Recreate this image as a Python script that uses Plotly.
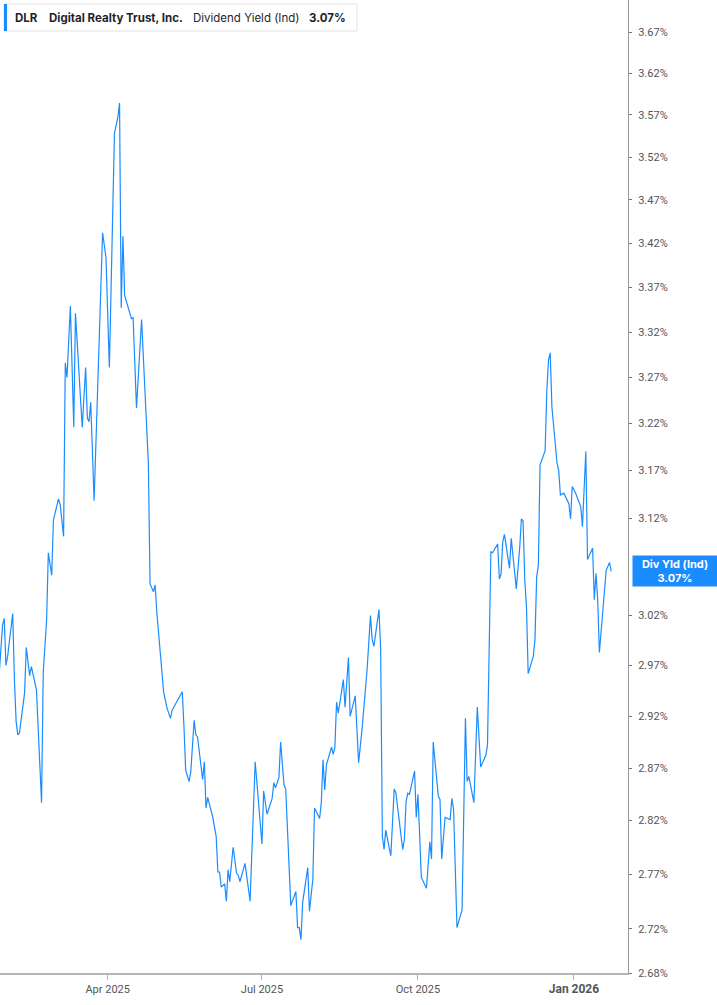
import math
import plotly.graph_objects as go

# DLR dividend yield (indicated)
dates = [
    "2025-01-27", "2025-01-29", "2025-01-30", "2025-01-31", "2025-02-01", "2025-02-04",
    "2025-02-05", "2025-02-06", "2025-02-07", "2025-02-08", "2025-02-11", "2025-02-12",
    "2025-02-14", "2025-02-15", "2025-02-18", "2025-02-21", "2025-02-22", "2025-02-24",
    "2025-02-25", "2025-02-27", "2025-02-28", "2025-03-01", "2025-03-03", "2025-03-04",
    "2025-03-06", "2025-03-07", "2025-03-08", "2025-03-10", "2025-03-12", "2025-03-13",
    "2025-03-15", "2025-03-17", "2025-03-19", "2025-03-20", "2025-03-21", "2025-03-22",
    "2025-03-24", "2025-03-29", "2025-03-31", "2025-04-02", "2025-04-05", "2025-04-07",
    "2025-04-08", "2025-04-09", "2025-04-10", "2025-04-11", "2025-04-15", "2025-04-16",
    "2025-04-18", "2025-04-21", "2025-04-25", "2025-04-26", "2025-04-28", "2025-04-29",
    "2025-04-30", "2025-05-03", "2025-05-04", "2025-05-06", "2025-05-08", "2025-05-09",
    "2025-05-15", "2025-05-16", "2025-05-17", "2025-05-19", "2025-05-20", "2025-05-22",
    "2025-05-23", "2025-05-24", "2025-05-27", "2025-05-28", "2025-05-29", "2025-05-30",
    "2025-06-02", "2025-06-04", "2025-06-05", "2025-06-06", "2025-06-07", "2025-06-09",
    "2025-06-10", "2025-06-11", "2025-06-12", "2025-06-14", "2025-06-16", "2025-06-17",
    "2025-06-18", "2025-06-21", "2025-06-24", "2025-06-27", "2025-07-01", "2025-07-02",
    "2025-07-04", "2025-07-07", "2025-07-08", "2025-07-09", "2025-07-11", "2025-07-12",
    "2025-07-14", "2025-07-15", "2025-07-18", "2025-07-21", "2025-07-22", "2025-07-23",
    "2025-07-24", "2025-07-25", "2025-07-28", "2025-07-29", "2025-07-31", "2025-08-01",
    "2025-08-04", "2025-08-05", "2025-08-06", "2025-08-07", "2025-08-08", "2025-08-11",
    "2025-08-12", "2025-08-13", "2025-08-14", "2025-08-15", "2025-08-18", "2025-08-19",
    "2025-08-21", "2025-08-22", "2025-08-25", "2025-08-27", "2025-08-29", "2025-09-01",
    "2025-09-03", "2025-09-04", "2025-09-05", "2025-09-08", "2025-09-09", "2025-09-10",
    "2025-09-11", "2025-09-12", "2025-09-15", "2025-09-17", "2025-09-18", "2025-09-22",
    "2025-09-23", "2025-09-24", "2025-09-25", "2025-09-26", "2025-09-29", "2025-09-30",
    "2025-10-01", "2025-10-03", "2025-10-06", "2025-10-08", "2025-10-09", "2025-10-10",
    "2025-10-13", "2025-10-14", "2025-10-15", "2025-10-17", "2025-10-20", "2025-10-21",
    "2025-10-22", "2025-10-24", "2025-10-27", "2025-10-29", "2025-10-30", "2025-10-31",
    "2025-11-03", "2025-11-05", "2025-11-07", "2025-11-10", "2025-11-11", "2025-11-13",
    "2025-11-14", "2025-11-17", "2025-11-18", "2025-11-19", "2025-11-20", "2025-11-21",
    "2025-11-24", "2025-11-25", "2025-11-28", "2025-11-30", "2025-12-01", "2025-12-02",
    "2025-12-03", "2025-12-04", "2025-12-05", "2025-12-08", "2025-12-09", "2025-12-10",
    "2025-12-11", "2025-12-12", "2025-12-15", "2025-12-16", "2025-12-17", "2025-12-18",
    "2025-12-19", "2025-12-22", "2025-12-23", "2025-12-24", "2025-12-26", "2025-12-29",
    "2025-12-30", "2025-12-31", "2026-01-02", "2026-01-05", "2026-01-06", "2026-01-08",
    "2026-01-09", "2026-01-12", "2026-01-13", "2026-01-14", "2026-01-15", "2026-01-16",
    "2026-01-18", "2026-01-20", "2026-01-22", "2026-01-23",
]

div_yield = [
    2.961, 3.010, 3.017, 2.970, 2.979, 3.022,
    2.956, 2.915, 2.902, 2.904, 2.943, 2.988,
    2.960, 2.969, 2.946, 2.837, 2.963, 3.016,
    3.084, 3.061, 3.118, 3.126, 3.140, 3.134,
    3.101, 3.286, 3.270, 3.349, 3.216, 3.341,
    3.278, 3.216, 3.281, 3.226, 3.222, 3.243,
    3.138, 3.432, 3.404, 3.281, 3.548, 3.567,
    3.584, 3.347, 3.428, 3.361, 3.335, 3.336,
    3.237, 3.334, 3.178, 3.052, 3.044, 3.051,
    3.023, 2.964, 2.944, 2.928, 2.918, 2.926,
    2.944, 2.910, 2.868, 2.857, 2.866, 2.916,
    2.902, 2.900, 2.859, 2.876, 2.832, 2.842,
    2.823, 2.805, 2.772, 2.772, 2.758, 2.761,
    2.745, 2.774, 2.763, 2.795, 2.771, 2.769,
    2.763, 2.780, 2.745, 2.876, 2.798, 2.848,
    2.826, 2.841, 2.856, 2.851, 2.861, 2.895,
    2.854, 2.850, 2.741, 2.754, 2.721, 2.721,
    2.710, 2.744, 2.776, 2.736, 2.765, 2.832,
    2.822, 2.837, 2.878, 2.849, 2.873, 2.890,
    2.883, 2.890, 2.934, 2.923, 2.956, 2.929,
    2.978, 2.920, 2.940, 2.875, 2.907, 2.966,
    3.020, 2.996, 2.989, 3.026, 2.986, 2.805,
    2.793, 2.811, 2.787, 2.850, 2.846, 2.793,
    2.802, 2.838, 2.846, 2.845, 2.867, 2.823,
    2.845, 2.767, 2.757, 2.800, 2.784, 2.895,
    2.843, 2.840, 2.784, 2.823, 2.821, 2.841,
    2.831, 2.721, 2.737, 2.918, 2.857, 2.862,
    2.837, 2.929, 2.871, 2.882, 2.892, 3.085,
    3.084, 3.093, 3.057, 3.062, 3.095, 3.103,
    3.068, 3.099, 3.047, 3.089, 3.119, 3.117,
    3.056, 3.029, 2.962, 2.979, 2.996, 3.059,
    3.071, 3.176, 3.191, 3.256, 3.289, 3.297,
    3.238, 3.178, 3.170, 3.144, 3.146, 3.135,
    3.119, 3.153, 3.146, 3.132, 3.111, 3.190,
    3.077, 3.089, 3.036, 3.063, 3.036, 2.983,
    3.026, 3.066, 3.074, 3.065,
]

# 3.07% sits under the last-value tag in the reference, so it is left out
y_ticks = [2.68, 2.72, 2.77, 2.82, 2.87, 2.92, 2.97, 3.02, 3.12, 3.17,
           3.22, 3.27, 3.32, 3.37, 3.42, 3.47, 3.52, 3.57, 3.62, 3.67]
x_ticks = ["2025-04-01", "2025-07-01", "2025-10-01", "2026-01-01"]
x_labels = ["Apr 2025", "Jul 2025", "Oct 2025",
            "<span style='font-size:12px'><b>Jan 2026</b></span>"]

ticker = "DLR"
company = "Digital Realty Trust, Inc."
metric = "Dividend Yield (Ind)"
last_label = "3.07%"

BLUE = "#1a8cff"
W, H = 717, 1005
L, R, T, B = 0, 89, 0, 32
PW, PH = W - L - R, H - T - B

fig = go.Figure()
fig.add_trace(go.Scatter(
    x=dates, y=div_yield, mode="lines",
    line=dict(color=BLUE, width=1.2),
    hoverinfo="x+y", showlegend=False,
))

fig.update_layout(
    width=W, height=H,
    margin=dict(l=L, r=R, t=T, b=B),
    paper_bgcolor="white", plot_bgcolor="white",
    font=dict(family="Roboto, Inter, sans-serif", size=11, color="#555"),
    showlegend=False,
)

fig.update_xaxes(
    type="date",
    range=["2025-01-27 12:00", "2026-02-01 21:00"],
    tickvals=x_ticks, ticktext=x_labels,
    showgrid=False, zeroline=False,
    showline=True, linecolor="#b5b5b5", linewidth=2,
    ticks="outside", ticklen=5, tickcolor="#b5b5b5",
    tickfont=dict(size=11, color="#555"),
)

fig.update_yaxes(
    type="log", side="right",
    range=[math.log10(2.68), math.log10(3.7096)],
    tickvals=y_ticks, ticktext=[f"{v:.2f}%" for v in y_ticks],
    showgrid=False, zeroline=False,
    showline=True, linecolor="#999", linewidth=1,
    ticks="outside", ticklen=3, tickcolor="#777",
    ticklabelstandoff=4,
    tickfont=dict(size=11, color="#555"),
)

# last value tag on the right axis
fig.add_annotation(
    xref="paper", x=1, xanchor="left", xshift=4,
    yref="y", y=math.log10(div_yield[-1]), yanchor="middle",
    text=f"<b>Div Yld (Ind)</b><br><b>{last_label}</b>",
    showarrow=False, align="center",
    bgcolor=BLUE, width=82, height=28, borderpad=1,
    font=dict(family="Inter, sans-serif", size=11, color="white"),
)

# header box in the top left corner
def px_x(px):
    return px / PW

def px_y(px):
    return 1 - px / PH

fig.add_shape(type="rect", xref="paper", yref="paper",
              x0=px_x(4), x1=px_x(357), y0=px_y(31), y1=px_y(4),
              line=dict(color="#e3e3e3", width=1), fillcolor="white", layer="above")
fig.add_shape(type="rect", xref="paper", yref="paper",
              x0=px_x(4), x1=px_x(7), y0=px_y(31), y1=px_y(4),
              line=dict(width=0), fillcolor=BLUE, layer="above")

header = [(13, f"<b>{ticker}</b>"), (47, f"<b>{company}</b>"),
          (191, metric), (307, f"<b>{last_label}</b>")]
for xpos, txt in header:
    fig.add_annotation(
        xref="paper", x=px_x(xpos), xanchor="left",
        yref="paper", y=px_y(17.5), yanchor="middle",
        text=txt, showarrow=False,
        font=dict(family="Inter, sans-serif", size=11.5, color="#1f1f2a"),
    )

# drop the browser's default page margin so the chart sits at the corner
fig.write_html("out.html", config={"displayModeBar": False},
               post_script="document.body.style.margin='0';")
